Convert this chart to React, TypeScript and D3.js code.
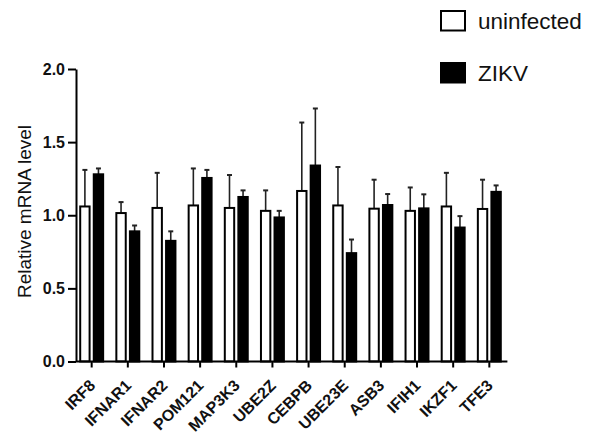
import React, { useRef, useEffect } from "react";
import * as d3 from "d3";

const genes = [
  "IRF8", "IFNAR1", "IFNAR2", "POM121", "MAP3K3", "UBE2Z",
  "CEBPB", "UBE23E", "ASB3", "IFIH1", "IKZF1", "TFE3",
];
const seriesNames = ["uninfected", "ZIKV"];
const uninfectedMean = [1.06, 1.015, 1.05, 1.067, 1.05, 1.03, 1.166, 1.067, 1.045, 1.03, 1.06, 1.043];
const uninfectedErr = [0.25, 0.075, 0.24, 0.253, 0.225, 0.14, 0.468, 0.263, 0.198, 0.16, 0.23, 0.2];
const zikvMean = [1.28, 0.89, 0.825, 1.255, 1.125, 0.985, 1.34, 0.741, 1.07, 1.047, 0.916, 1.16];
const zikvErr = [0.04, 0.04, 0.065, 0.055, 0.045, 0.045, 0.39, 0.093, 0.075, 0.096, 0.078, 0.044];
const yTicks = [0, 0.5, 1.0, 1.5, 2.0];

const FONT = "'Liberation Sans', Arial, Helvetica, sans-serif";

const Chart = ({ width, height }) => {
  const svgRef = useRef(null);

  useEffect(() => {
    if (!svgRef.current) return;
    const svg = d3.select(svgRef.current);
    svg.selectAll("*").remove();

    const axisX = 76;
    const y = d3.scaleLinear().domain([0, 2]).range([361.5, 69]);
    const x = d3.scaleBand().domain(genes).range([73.6, 507.4]).paddingInner(0.31).paddingOuter(0.155);
    const inner = d3.scaleBand().domain(seriesNames).range([0, x.bandwidth()]).paddingInner(0.16);

    const rows = genes.map((g, i) => ({
      gene: g,
      values: [
        { key: "uninfected", mean: uninfectedMean[i], err: uninfectedErr[i] },
        { key: "ZIKV", mean: zikvMean[i], err: zikvErr[i] },
      ],
    }));

    // bars + upward error bars
    const groups = svg
      .append("g")
      .selectAll("g")
      .data(rows)
      .enter()
      .append("g")
      .attr("transform", (d) => "translate(" + x(d.gene) + ",0)");

    const bars = groups.selectAll("g").data((d) => d.values).enter().append("g");

    bars
      .append("line")
      .attr("x1", (d) => inner(d.key) + inner.bandwidth() / 2)
      .attr("x2", (d) => inner(d.key) + inner.bandwidth() / 2)
      .attr("y1", (d) => y(d.mean))
      .attr("y2", (d) => y(d.mean + d.err))
      .style("stroke", "#222")
      .style("stroke-width", 1.6);

    bars
      .append("line")
      .attr("x1", (d) => inner(d.key) + inner.bandwidth() / 2 - 2.5)
      .attr("x2", (d) => inner(d.key) + inner.bandwidth() / 2 + 2.5)
      .attr("y1", (d) => y(d.mean + d.err))
      .attr("y2", (d) => y(d.mean + d.err))
      .style("stroke", "#222")
      .style("stroke-width", 2);

    bars
      .append("rect")
      .attr("x", (d) => inner(d.key) + 1)
      .attr("width", inner.bandwidth() - 2)
      .attr("y", (d) => y(d.mean))
      .attr("height", (d) => y(0) - y(d.mean))
      .style("fill", (d) => (d.key === "ZIKV" ? "#000" : "#fff"))
      .style("stroke", "#000")
      .style("stroke-width", 2);

    // y axis
    const yAxis = svg
      .append("g")
      .attr("transform", "translate(" + axisX + ",0)")
      .call(
        d3.axisLeft(y).tickValues(yTicks).tickFormat(d3.format(".1f")).tickSize(8).tickSizeOuter(0)
      );
    yAxis.select(".domain").style("stroke", "#000").style("stroke-width", 2);
    yAxis.selectAll(".tick line").style("stroke", "#000").style("stroke-width", 2);
    yAxis
      .selectAll(".tick text")
      .attr("x", -11)
      .style("font-family", FONT)
      .style("font-weight", "bold")
      .style("font-size", "16px")
      .style("fill", "#111");

    // x axis
    const xAxis = svg
      .append("g")
      .attr("transform", "translate(0," + y(0) + ")")
      .call(d3.axisBottom(x).tickSize(6).tickSizeOuter(0));
    xAxis.select(".domain").attr("d", "M" + axisX + ",0H507.4").style("stroke", "#000").style("stroke-width", 2);
    xAxis.selectAll(".tick line").style("stroke", "#000").style("stroke-width", 2);
    xAxis
      .selectAll(".tick text")
      .attr("text-anchor", "end")
      .attr("transform", "translate(4.5,25) rotate(-45)")
      .attr("x", 0)
      .attr("y", 0)
      .attr("dy", 0)
      .style("font-family", FONT)
      .style("font-weight", "bold")
      .style("font-size", "16px")
      .style("fill", "#111");

    // y axis title
    svg
      .append("text")
      .attr("transform", "translate(31," + 211.5 + ") rotate(-90)")
      .attr("text-anchor", "middle")
      .style("font-family", FONT)
      .style("font-size", "19px")
      .style("fill", "#111")
      .text("Relative mRNA level");

    // legend
    const legend = svg
      .append("g")
      .selectAll("g")
      .data(seriesNames)
      .enter()
      .append("g")
      .attr("transform", (d, i) => "translate(441," + (11 + i * 52) + ")");
    legend
      .append("rect")
      .attr("width", 24)
      .attr("height", 19.5)
      .style("fill", (d) => (d === "ZIKV" ? "#000" : "#fff"))
      .style("stroke", "#000")
      .style("stroke-width", 2);
    legend
      .append("text")
      .attr("x", 37)
      .attr("y", 18)
      .style("font-family", FONT)
      .style("font-size", "22.5px")
      .style("fill", "#111")
      .text((d) => d);
  }, [width, height]);

  return (
    <svg
      ref={svgRef}
      width={width}
      height={height}
      style={{ position: "absolute", left: 0, top: 0, background: "#fff" }}
    />
  );
};

export default function App() {
  return <Chart width={589} height={435} />;
}
